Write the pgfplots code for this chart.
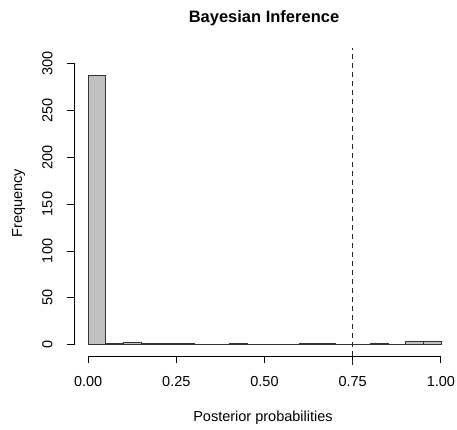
\documentclass[border=0pt]{standalone}
\usepackage{pgfplots}
\pgfplotsset{compat=1.18}
\usepackage{fontspec}
\setmainfont{Liberation Sans}
\definecolor{barfill}{RGB}{192,192,192}
\begin{document}
\begin{tikzpicture}[x=1pt,y=1pt]
\useasboundingbox (0,0) rectangle (457,430);
\begin{axis}[at={(74pt,74pt)}, anchor=south west, scale only axis,
  width=381pt, height=304pt,
  xmin=-0.04, xmax=1.04, ymin=-12, ymax=312,
  axis lines=left, axis line style={draw=none},
  tick align=outside, major tick length=7pt,
  tick style={black, line width=0.8pt},
  xtick={0,0.25,0.5,0.75,1},
  xticklabels={0.00,0.25,0.50,0.75,1.00},
  ytick={0,50,100,150,200,250,300},
  /pgf/number format/assume math mode=true,
  ticklabel style={font=\fontsize{14.5}{14.5}\selectfont},
  xticklabel style={yshift=-10pt},
  yticklabel style={rotate=90, anchor=south, yshift=11pt},
  clip=false,
]
\addplot[ybar interval, fill=barfill, draw=black!80, line width=0.7pt] coordinates {
 (0.00,287) (0.05,1) (0.10,3) (0.15,1) (0.20,1) (0.25,1) (0.30,0) (0.35,0)
 (0.40,2) (0.45,0) (0.50,0) (0.55,0) (0.60,2) (0.65,1) (0.70,0) (0.75,0)
 (0.80,2) (0.85,0) (0.90,4) (0.95,4) (1.00,4)};
\addplot[black!85, line width=0.8pt, dash pattern=on 5pt off 4pt] coordinates {(0.75,-22) (0.75,316)};
\draw[black, line width=0.8pt] (axis cs:0,-12) -- (axis cs:1,-12);
\draw[black, line width=0.8pt] (axis cs:-0.04,0) -- (axis cs:-0.04,300);
\end{axis}
\node[anchor=base, font=\fontsize{16.5}{16.5}\selectfont\bfseries] at (264,407) {Bayesian Inference};
\node[anchor=base, font=\fontsize{14.5}{14.5}\selectfont] at (263,8) {Posterior probabilities};
\node[anchor=base, rotate=90, font=\fontsize{14.5}{14.5}\selectfont] at (22,227) {Frequency};
\end{tikzpicture}
\end{document}
